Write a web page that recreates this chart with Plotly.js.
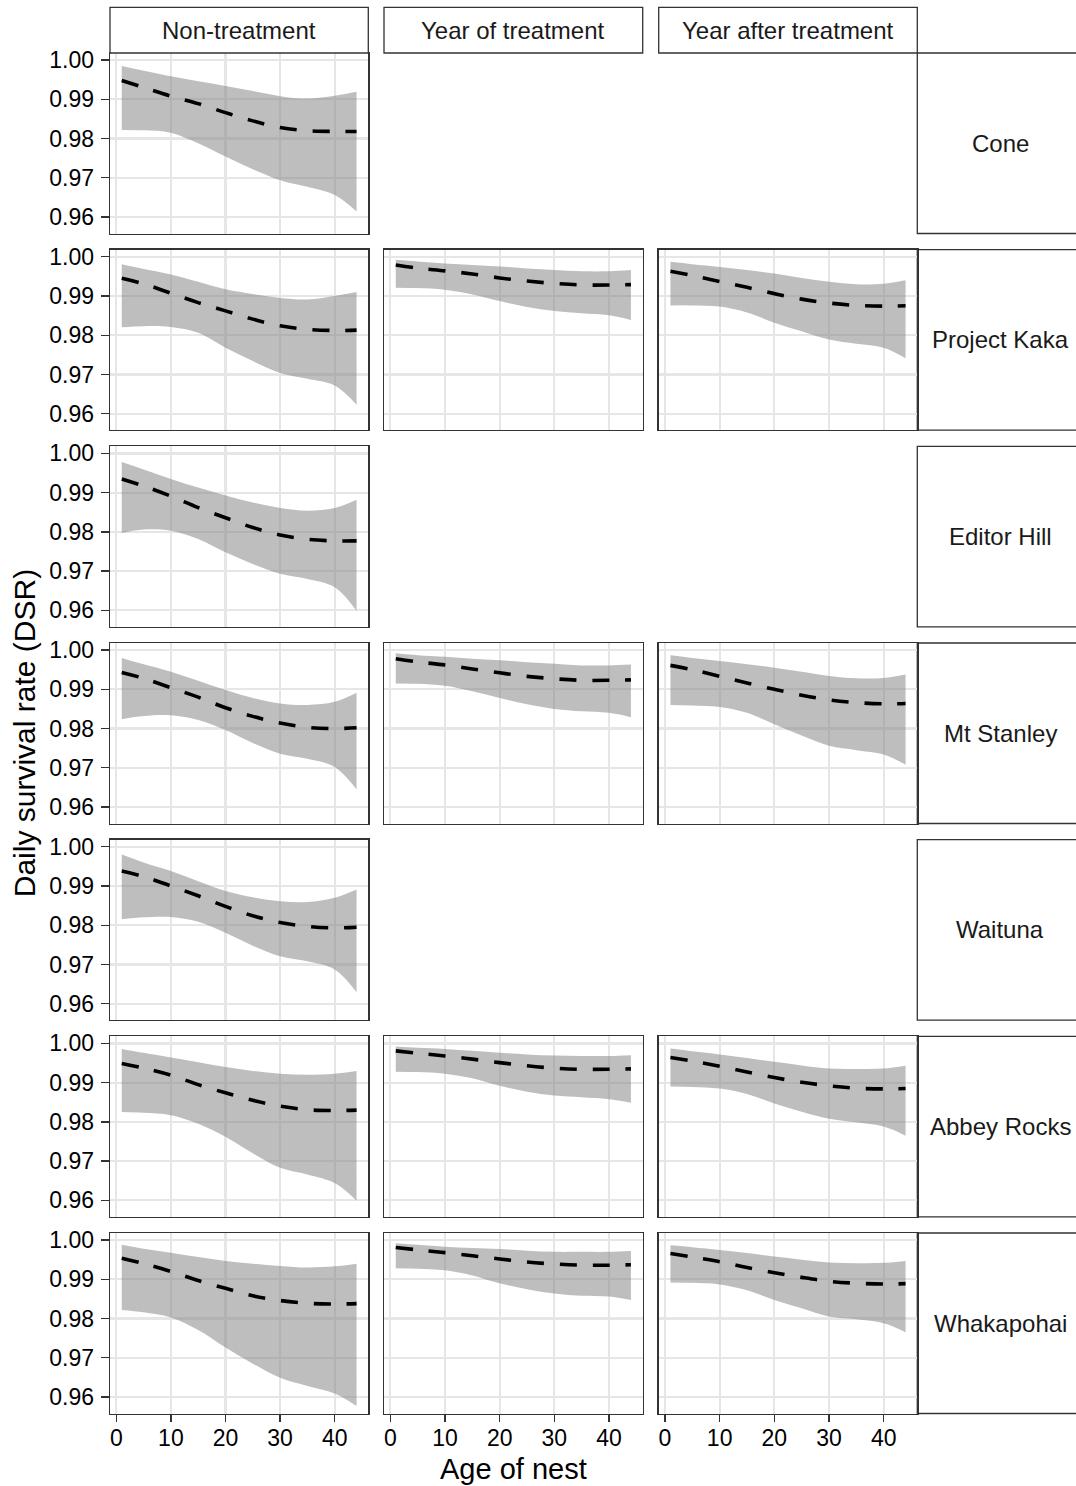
<!DOCTYPE html>
<html>
<head>
<meta charset="utf-8">
<script src="https://cdn.plot.ly/plotly-3.0.1.min.js"></script>
<style>html,body{margin:0;padding:0;background:#fff;}#chart{width:1076px;height:1486px;}</style>
</head>
<body>
<div id="chart"></div>
<script>
// ---------------- DATA ----------------
const age = [1, 5, 10, 15, 20, 25, 30, 35, 40, 44];
const treatments = ["Non-treatment", "Year of treatment", "Year after treatment"];
const sites = ["Cone", "Project Kaka", "Editor Hill", "Mt Stanley", "Waituna", "Abbey Rocks", "Whakapohai"];
const xTicks = [0, 10, 20, 30, 40];
const yTicks = [0.96, 0.97, 0.98, 0.99, 1.00];
const yTickLabels = ["0.96", "0.97", "0.98", "0.99", "1.00"];

// Cone
const cone_non_fit = [0.9948,0.9930,0.9908,0.9889,0.9866,0.9845,0.9828,0.9820,0.9818,0.9818];
const cone_non_hi  = [0.9985,0.9973,0.9959,0.9946,0.9934,0.9921,0.9908,0.9902,0.9909,0.9919];
const cone_non_lo  = [0.9822,0.9821,0.9815,0.9788,0.9754,0.9722,0.9694,0.9677,0.9656,0.9614];
// Project Kaka
const kaka_non_fit = [0.9945,0.9931,0.9907,0.9883,0.9862,0.9841,0.9824,0.9815,0.9812,0.9813];
const kaka_non_hi  = [0.9981,0.9969,0.9955,0.9936,0.9917,0.9905,0.9895,0.9891,0.9900,0.9910];
const kaka_non_lo  = [0.9820,0.9823,0.9821,0.9806,0.9768,0.9734,0.9704,0.9689,0.9672,0.9623];
const kaka_yr_fit  = [0.9979,0.9971,0.9964,0.9956,0.9946,0.9938,0.9932,0.9928,0.9928,0.9929];
const kaka_yr_hi   = [0.9992,0.9988,0.9983,0.9979,0.9975,0.9970,0.9966,0.9963,0.9963,0.9966];
const kaka_yr_lo   = [0.9921,0.9920,0.9916,0.9904,0.9887,0.9872,0.9862,0.9856,0.9851,0.9839];
const kaka_aft_fit = [0.9963,0.9952,0.9937,0.9922,0.9906,0.9892,0.9882,0.9876,0.9874,0.9875];
const kaka_aft_hi  = [0.9987,0.9981,0.9974,0.9966,0.9957,0.9946,0.9936,0.9930,0.9931,0.9940];
const kaka_aft_lo  = [0.9876,0.9876,0.9873,0.9858,0.9832,0.9810,0.9789,0.9778,0.9768,0.9741];
// Editor Hill
const editor_non_fit = [0.9935,0.9917,0.9891,0.9862,0.9836,0.9811,0.9792,0.9781,0.9777,0.9777];
const editor_non_hi  = [0.9978,0.9959,0.9935,0.9913,0.9893,0.9875,0.9861,0.9854,0.9861,0.9882];
const editor_non_lo  = [0.9797,0.9806,0.9803,0.9782,0.9748,0.9718,0.9693,0.9680,0.9659,0.9599];
// Mt Stanley
const stanley_non_fit = [0.9943,0.9928,0.9904,0.9880,0.9853,0.9831,0.9814,0.9803,0.9800,0.9802];
const stanley_non_hi  = [0.9980,0.9964,0.9945,0.9922,0.9898,0.9878,0.9864,0.9860,0.9868,0.9891];
const stanley_non_lo  = [0.9824,0.9832,0.9834,0.9822,0.9796,0.9763,0.9736,0.9723,0.9702,0.9645];
const stanley_yr_fit  = [0.9978,0.9970,0.9962,0.9952,0.9942,0.9933,0.9927,0.9923,0.9923,0.9924];
const stanley_yr_hi   = [0.9992,0.9987,0.9983,0.9978,0.9974,0.9969,0.9965,0.9961,0.9961,0.9963];
const stanley_yr_lo   = [0.9915,0.9914,0.9909,0.9895,0.9878,0.9862,0.9850,0.9844,0.9840,0.9829];
const stanley_aft_fit = [0.9961,0.9950,0.9933,0.9916,0.9900,0.9885,0.9873,0.9866,0.9863,0.9864];
const stanley_aft_hi  = [0.9987,0.9980,0.9972,0.9964,0.9955,0.9945,0.9934,0.9928,0.9929,0.9938];
const stanley_aft_lo  = [0.9860,0.9859,0.9855,0.9840,0.9811,0.9782,0.9756,0.9745,0.9734,0.9708];
// Waituna
const waituna_non_fit = [0.9938,0.9924,0.9900,0.9875,0.9848,0.9824,0.9807,0.9797,0.9793,0.9795];
const waituna_non_hi  = [0.9980,0.9960,0.9938,0.9912,0.9887,0.9871,0.9861,0.9859,0.9870,0.9891];
const waituna_non_lo  = [0.9815,0.9820,0.9821,0.9809,0.9781,0.9748,0.9721,0.9708,0.9687,0.9629];
// Abbey Rocks
const abbey_non_fit = [0.9949,0.9937,0.9919,0.9895,0.9874,0.9855,0.9840,0.9831,0.9829,0.9830];
const abbey_non_hi  = [0.9986,0.9976,0.9964,0.9952,0.9940,0.9930,0.9923,0.9920,0.9923,0.9930];
const abbey_non_lo  = [0.9825,0.9823,0.9817,0.9795,0.9762,0.9720,0.9683,0.9666,0.9644,0.9599];
const abbey_yr_fit  = [0.9981,0.9975,0.9968,0.9960,0.9951,0.9943,0.9937,0.9934,0.9934,0.9935];
const abbey_yr_hi   = [0.9992,0.9989,0.9986,0.9981,0.9976,0.9972,0.9969,0.9968,0.9968,0.9970];
const abbey_yr_lo   = [0.9928,0.9927,0.9923,0.9911,0.9892,0.9877,0.9867,0.9863,0.9858,0.9849];
const abbey_aft_fit = [0.9964,0.9955,0.9942,0.9927,0.9913,0.9901,0.9892,0.9886,0.9884,0.9885];
const abbey_aft_hi  = [0.9987,0.9980,0.9972,0.9963,0.9953,0.9944,0.9936,0.9935,0.9936,0.9943];
const abbey_aft_lo  = [0.9890,0.9889,0.9885,0.9871,0.9847,0.9826,0.9808,0.9799,0.9788,0.9765];
// Whakapohai
const whaka_non_fit = [0.9954,0.9940,0.9920,0.9897,0.9877,0.9858,0.9846,0.9839,0.9837,0.9838];
const whaka_non_hi  = [0.9988,0.9978,0.9968,0.9957,0.9947,0.9940,0.9934,0.9930,0.9933,0.9940];
const whaka_non_lo  = [0.9822,0.9816,0.9803,0.9771,0.9726,0.9685,0.9649,0.9628,0.9609,0.9577];
const whaka_yr_fit  = [0.9981,0.9975,0.9968,0.9960,0.9952,0.9944,0.9939,0.9936,0.9936,0.9937];
const whaka_yr_hi   = [0.9992,0.9988,0.9983,0.9980,0.9977,0.9973,0.9970,0.9970,0.9970,0.9972];
const whaka_yr_lo   = [0.9928,0.9927,0.9923,0.9910,0.9890,0.9875,0.9864,0.9858,0.9856,0.9847];
const whaka_aft_fit = [0.9966,0.9957,0.9945,0.9930,0.9917,0.9905,0.9895,0.9890,0.9888,0.9889];
const whaka_aft_hi  = [0.9987,0.9982,0.9975,0.9967,0.9958,0.9950,0.9943,0.9941,0.9942,0.9947];
const whaka_aft_lo  = [0.9892,0.9891,0.9887,0.9872,0.9847,0.9826,0.9805,0.9798,0.9788,0.9765];

// panel list: [row, col, fit, lo, hi]
const panels = [
  [0,0,cone_non_fit,cone_non_lo,cone_non_hi],
  [1,0,kaka_non_fit,kaka_non_lo,kaka_non_hi],
  [1,1,kaka_yr_fit,kaka_yr_lo,kaka_yr_hi],
  [1,2,kaka_aft_fit,kaka_aft_lo,kaka_aft_hi],
  [2,0,editor_non_fit,editor_non_lo,editor_non_hi],
  [3,0,stanley_non_fit,stanley_non_lo,stanley_non_hi],
  [3,1,stanley_yr_fit,stanley_yr_lo,stanley_yr_hi],
  [3,2,stanley_aft_fit,stanley_aft_lo,stanley_aft_hi],
  [4,0,waituna_non_fit,waituna_non_lo,waituna_non_hi],
  [5,0,abbey_non_fit,abbey_non_lo,abbey_non_hi],
  [5,1,abbey_yr_fit,abbey_yr_lo,abbey_yr_hi],
  [5,2,abbey_aft_fit,abbey_aft_lo,abbey_aft_hi],
  [6,0,whaka_non_fit,whaka_non_lo,whaka_non_hi],
  [6,1,whaka_yr_fit,whaka_yr_lo,whaka_yr_hi],
  [6,2,whaka_aft_fit,whaka_aft_lo,whaka_aft_hi]
];

// ---------------- LAYOUT ----------------
const W = 1076, H = 1486;
const FONT = "Liberation Sans, Arial, sans-serif";
const colL = [110, 384, 658.7], colR = [368.3, 642.7, 917.3];
const rowTop0 = 53, rowPitch = 196.67, rowH = 180.5;
const px = x => x / W;
const py = y => 1 - y / H;
const nRows = sites.length, nCols = treatments.length;
const GRID = "#E6E6E6";

const layout = {
  width: W, height: H,
  margin: {l:0, r:0, t:0, b:0},
  paper_bgcolor: "#ffffff", plot_bgcolor: "#ffffff",
  showlegend: false,
  font: {family: FONT, color: "#000000"},
  shapes: [], annotations: []
};

const data = [];
for (let r = 0; r < nRows; r++) {
  const top = rowTop0 + r * rowPitch, bot = top + rowH;
  for (let c = 0; c < nCols; c++) {
    const i = r * nCols + c + 1;
    const xk = "xaxis" + (i === 1 ? "" : i), yk = "yaxis" + (i === 1 ? "" : i);
    const bottomRow = r === nRows - 1, firstCol = c === 0;
    layout[xk] = {
      domain: [px(colL[c]), px(colR[c])],
      anchor: "y" + (i === 1 ? "" : i),
      range: [-1.15, 46.15],
      tickvals: xTicks,
      showgrid: true, gridcolor: GRID, gridwidth: 2.2,
      zeroline: false,
      showline: true, mirror: true, linecolor: "#333333", linewidth: 1.3,
      ticks: bottomRow ? "outside" : "", ticklen: 7, tickwidth: 1.3, tickcolor: "#333333",
      showticklabels: bottomRow,
      ticklabelstandoff: -3,
      tickfont: {family: FONT, size: 23, color: "#000000"},
      fixedrange: true
    };
    layout[yk] = {
      domain: [py(bot), py(top)],
      anchor: "x" + (i === 1 ? "" : i),
      range: [0.9558, 1.0018],
      tickvals: yTicks, ticktext: yTickLabels,
      showgrid: true, gridcolor: GRID, gridwidth: 2.2,
      zeroline: false,
      showline: true, mirror: true, linecolor: "#333333", linewidth: 1.3,
      ticks: firstCol ? "outside" : "", ticklen: 8, tickwidth: 1.3, tickcolor: "#333333",
      showticklabels: firstCol,
      ticklabelstandoff: 2,
      tickfont: {family: FONT, size: 23, color: "#000000"},
      fixedrange: true
    };
  }
  // right strip
  layout.shapes.push({type:"rect", xref:"paper", yref:"paper",
    x0: px(colR[2]), x1: px(1090), y0: py(bot), y1: py(top),
    fillcolor:"#ffffff", line:{color:"#333333", width:1.3}, layer:"below"});
  layout.annotations.push({xref:"paper", yref:"paper", x: px(1000), y: py((top+bot)/2),
    text: sites[r], showarrow:false, xanchor:"center", yanchor:"middle",
    font:{family: FONT, size: 24, color:"#1A1A1A"}});
}
// top strips
for (let c = 0; c < nCols; c++) {
  layout.shapes.push({type:"rect", xref:"paper", yref:"paper",
    x0: px(colL[c]), x1: px(colR[c]), y0: py(53), y1: py(7.3),
    fillcolor:"#ffffff", line:{color:"#333333", width:1.3}});
  layout.annotations.push({xref:"paper", yref:"paper", x: px((colL[c]+colR[c])/2), y: py(31),
    text: treatments[c], showarrow:false, xanchor:"center", yanchor:"middle",
    font:{family: FONT, size: 24, color:"#1A1A1A"}});
}
// axis titles
layout.annotations.push({xref:"paper", yref:"paper", x: px((colL[0]+colR[2])/2), y: py(1485.5),
  text:"Age of nest", showarrow:false, xanchor:"center", yanchor:"bottom", borderpad:0,
  font:{family: FONT, size: 29, color:"#000000"}});
layout.annotations.push({xref:"paper", yref:"paper", x: px(24), y: py((rowTop0 + (nRows-1)*rowPitch + rowH + rowTop0)/2),
  text:"Daily survival rate (DSR)", showarrow:false, textangle:-90, xanchor:"center", yanchor:"middle",
  font:{family: FONT, size: 30, color:"#000000"}});

// traces
panels.forEach(p => {
  const [r, c, fit, lo, hi] = p;
  const i = r * nCols + c + 1;
  const xa = "x" + (i === 1 ? "" : i), ya = "y" + (i === 1 ? "" : i);
  data.push({x: age, y: hi, xaxis: xa, yaxis: ya, type:"scatter", mode:"lines",
    line:{width:0, shape:"spline", color:"rgba(0,0,0,0)"}, hoverinfo:"skip"});
  data.push({x: age, y: lo, xaxis: xa, yaxis: ya, type:"scatter", mode:"lines",
    fill:"tonexty", fillcolor:"rgba(125,125,125,0.5)",
    line:{width:0, shape:"spline", color:"rgba(0,0,0,0)"}, hoverinfo:"skip"});
  data.push({x: age, y: fit, xaxis: xa, yaxis: ya, type:"scatter", mode:"lines",
    line:{width:3.6, shape:"spline", color:"#000000", dash:"17px,16px"}});
});

Plotly.newPlot("chart", data, layout, {staticPlot:true, displayModeBar:false});
</script>
</body>
</html>
